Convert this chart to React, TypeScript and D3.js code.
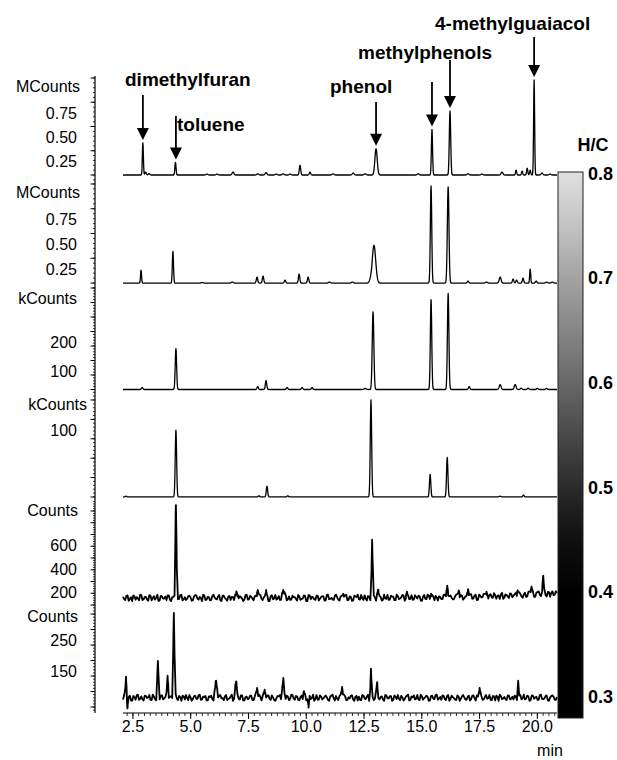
import React from 'react';
import * as d3 from 'd3';

// ---------- data ----------
const T_START = 2.07;
const T_END = 20.85;
const X_TICKS = [2.5, 5, 7.5, 10, 12.5, 15, 17.5, 20];

const PANEL_UNITS = ['MCounts', 'MCounts', 'kCounts', 'kCounts', 'Counts', 'Counts'];
const PANEL_LABELS = [[0.25, 0.5, 0.75], [0.25, 0.5, 0.75], [100, 200], [100], [200, 400, 600], [150, 250]];
const PANEL_DECIMALS = [2, 2, 0, 0, 0, 0];

// peaks: [time (min), height (panel units), sigma (min)]
const PEAKS_1: [number, number, number][] = [
  [2.93, 0.33, 0.022], [3.05, 0.03, 0.03], [3.2, 0.015, 0.03], [4.34, 0.13, 0.025], [5.7, 0.01, 0.04],
  [6.14, 0.01, 0.04], [6.83, 0.03, 0.04], [7.9, 0.012, 0.04], [8.26, 0.025, 0.04], [8.7, 0.01, 0.04],
  [9.0, 0.012, 0.04], [9.3, 0.01, 0.04], [9.73, 0.1, 0.03], [10.16, 0.03, 0.03], [11.16, 0.012, 0.04],
  [12.03, 0.02, 0.04], [12.55, 0.012, 0.04], [13.02, 0.27, 0.05], [14.84, 0.012, 0.04], [15.44, 0.47, 0.025],
  [16.22, 0.66, 0.03], [17.0, 0.012, 0.04], [17.6, 0.01, 0.04], [18.47, 0.03, 0.04], [19.08, 0.05, 0.025],
  [19.34, 0.04, 0.025], [19.56, 0.07, 0.025], [19.69, 0.05, 0.025], [19.86, 0.98, 0.022], [20.2, 0.02, 0.04],
  [20.55, 0.01, 0.04],
];
const PEAKS_2: [number, number, number][] = [
  [2.85, 0.13, 0.022], [4.23, 0.32, 0.025], [5.5, 0.005, 0.04], [6.8, 0.01, 0.04], [7.87, 0.06, 0.03],
  [8.13, 0.07, 0.03], [9.08, 0.03, 0.03], [9.69, 0.09, 0.03], [10.08, 0.06, 0.03], [11.0, 0.01, 0.04],
  [12.0, 0.01, 0.04], [12.76, 0.02, 0.04], [12.93, 0.38, 0.075], [15.4, 0.98, 0.03], [16.14, 0.97, 0.035],
  [17.0, 0.02, 0.03], [17.8, 0.01, 0.04], [18.39, 0.06, 0.04], [18.95, 0.04, 0.03], [19.1, 0.03, 0.03],
  [19.38, 0.05, 0.03], [19.69, 0.14, 0.022], [19.95, 0.02, 0.03], [20.4, 0.01, 0.04], [20.65, 0.01, 0.04],
];
const PEAKS_3: [number, number, number][] = [
  [2.9, 7, 0.03], [4.36, 141, 0.03], [7.9, 10, 0.03], [8.26, 31, 0.03], [9.17, 7, 0.03], [9.82, 7, 0.03],
  [10.25, 7, 0.03], [12.55, 4, 0.04], [12.89, 268, 0.035], [15.4, 310, 0.03], [16.14, 331, 0.032],
  [17.05, 10, 0.03], [18.39, 17, 0.04], [19.04, 17, 0.04], [19.3, 5, 0.03], [19.6, 5, 0.03], [20.0, 4, 0.03],
  [20.4, 4, 0.03],
];
const PEAKS_4: [number, number, number][] = [
  [2.2, 1, 0.03], [4.36, 86, 0.03], [7.95, 1.5, 0.03], [8.3, 13.8, 0.03], [9.2, 1.5, 0.03],
  [12.8, 125, 0.03], [15.36, 29, 0.03], [16.1, 51, 0.03], [18.39, 1, 0.04], [19.4, 2.5, 0.03],
];
const PEAKS_5: [number, number, number][] = [
  [4.36, 790, 0.025], [7.0, 42, 0.04], [7.9, 68, 0.03], [8.26, 51, 0.03], [9.0, 60, 0.04], [11.6, 34, 0.03],
  [12.85, 494, 0.022], [13.1, 68, 0.03], [14.35, 42, 0.03], [15.4, 34, 0.03], [16.1, 102, 0.03],
  [16.6, 60, 0.03], [17.0, 68, 0.03], [17.8, 42, 0.03], [19.15, 42, 0.03], [19.75, 68, 0.03], [20.25, 153, 0.025],
];
const PEAKS_6: [number, number, number][] = [
  [2.2, 68, 0.02], [2.26, -35, 0.015], [3.58, 119, 0.025], [4.0, 71, 0.025], [4.27, 274, 0.025],
  [6.1, 55, 0.04], [6.96, 52, 0.035], [7.87, 32, 0.03], [8.2, 26, 0.03], [9.0, 55, 0.04], [9.9, 19, 0.03],
  [10.1, -32, 0.015], [11.55, 35, 0.025], [12.8, 94, 0.02], [13.06, 48, 0.025], [17.5, 32, 0.025],
  [19.17, 55, 0.02],
];

// baselines for the noisy panels: [time, value]
const BASE_5: [number, number][] = [[2.07, 60], [16, 62], [18, 72], [20.85, 100]];
const BASE_6: [number, number][] = [[2.07, 30], [20.85, 30]];

// hand-read baseline jitter (two interleaved sample sets per noisy panel)
const NOISE_5A = [
  4, -6, 7, -3, -9, 5, 2, -7, 8, -4, 3, -8, 6, 0, -5, 9, -7, 4, -2,
  -6, 7, -9, 3, 5, -4, 8, -7, 2, -3, 6, -8, 4, 7, -5, -1, 9, -6, 3,
  -7, 5, 1, -4, 8, -9, 6, -3, 4, -6, 2, 7, -8, 5, -2, -5, 9, -4, 3,
  -7, 6, -3, 8, -6, 1, 4, -9, 7, -2, -5, 5, -7, 3, 8, -4, -6, 6, 2,
  -8, 4, -3, 7, -9, 8, -4, 1, -6, 6, -3, 5, -8, 8, -4, 0, -6, 9, -5,
  3, -2, 7, -7, 4, -9, 6, 2, -4, 8, -6, -3, 5, -7, 7, 1, -5, 4, -8,
  9, -3, -6, 6, 3, -7, 5, -2, 8, -9, 4, -4, 7, -5, 2, 6, -8, 3, -3,
  9, -6, 5, -7, 1, 4, -4, 8, -2, -7, 6, -5, 3, 7, -9, 5, -3, 2, -6,
  8, -4, 6, -8, 3, -1, 7, -6, 4, -3, 9, -7, 2, 5, -8, 4, -2, 6, -5,
  3, -9, 7, -4, 1, -6, 8, -3, 5, -7, 6, -2, -4, 7, -8, 4, 2, -5, 6,
];
const NOISE_5B = [
  -3, 6, -8, 2, 7, -5, -1, 9, -6, 3, -4, 8, -7, 5, 1, -9, 6, -2, 4,
  7, -5, 2, -8, 6, -3, 9, -4, -6, 5, 1, -7, 8, -2, 3, -9, 7, -5, 2,
  -6, 9, -3, 4, -7, 6, -1, -8, 5, 3, -6, 7, -4, 2, -9, 8, -5, 6, -2,
  4, -8, 7, -3, 1, 6, -9, 5, -4, 8, -2, -6, 3, 9, -7, 4, -5, 2, -3,
  8, -6, -2, 5, -9, 7, 3, -4, 6, -8, 2, 4, -7, 9, -3, -5, 6, 1, -8,
  5, -3, 8, -6, 2, -7, 4, 9, -5, -2, 7, -8, 3, -4, 6, -9, 5, 2, -6,
  -2, 8, -5, 3, -7, 9, -4, 1, 6, -8, 5, -3, -6, 7, -2, 4, -9, 8, -4,
  6, -7, 3, 5, -8, 2, -4, 9, -6, 4, -1, -5, 8, -3, 6, -7, 2, -8, 7,
  -5, 4, -9, 6, -2, 8, -3, -6, 7, -4, 3, 1, -8, 9, -5, 2, -7, 5, -1,
  7, -4, 3, -8, 6, -5, 9, -2, -7, 4, 8, -6, 2, -3, 5, -9, 6, -4, 1,
];
const NOISE_6A = [
  -5, 8, -3, 6, -9, 2, 7, -6, 4, -8, 5, 1, -7, 9, -4, 3, -6, 7, -2,
  5, -8, 4, -3, 9, -7, 2, 6, -5, -1, 8, -9, 4, -3, 7, -6, 3, 5, -8,
  2, -4, 9, -6, 5, -2, -7, 8, -3, 4, -9, 6, 1, -5, 7, -8, 3, -2, 6,
  -7, 8, -4, 2, 5, -9, 6, -3, 7, -6, -1, 4, -8, 9, -5, 3, -2, 8, -6,
  4, -7, 6, 2, -8, 5, -4, 9, -3, -6, 7, -5, 3, 1, -9, 6, -2, 5, -7,
  8, -3, 4, -6, -2, 7, -9, 5, 3, -7, 6, -4, 9, -8, 2, -3, 6, -5, 4,
  -9, 7, -2, 5, -6, 3, 8, -7, 1, -4, 6, -8, 4, 7, -3, -5, 9, -6, 2,
  3, -8, 6, -4, 9, -2, -6, 5, -7, 8, -3, 2, -5, 7, -9, 4, 1, -6, 6,
  -4, 7, -8, 3, 5, -6, 2, -3, 8, -7, 4, 6, -9, 5, -2, -4, 7, -5, 3,
  6, -8, 2, -5, 9, -3, 4, -7, 6, 1, -6, 8, -4, -2, 7, -9, 5, 3, -6,
];
const NOISE_6B = [
  7, -4, 2, -8, 5, -6, 9, -3, -5, 6, -1, 8, -7, 3, -9, 4, 6, -5, 2,
  -8, 3, -6, 7, -2, 5, -9, 4, 8, -7, 1, -4, 6, -3, 9, -5, 2, -8, 4,
  6, -9, 3, -5, 8, -1, 4, -7, -2, 9, -6, 5, -3, 7, -8, 2, -4, 6, -7,
  3, -5, 9, -8, 4, -2, 7, -6, 1, -9, 5, 8, -3, -4, 6, -7, 9, -2, 5,
  -6, 2, -8, 7, -4, 6, -1, -9, 8, -5, 3, -2, 7, -6, 4, 9, -8, -3, 5,
  -4, 9, -7, 1, 6, -5, 3, -8, -6, 8, -2, 4, -9, 5, -7, 7, -3, 2, -5,
  8, -2, 5, -9, 7, -4, -3, 6, -8, 3, 9, -6, 1, -5, 8, -7, 4, -1, 6,
  -9, 5, -3, 8, -6, 2, 7, -4, 5, -9, 6, -1, -7, 4, -3, 8, -5, 3, -8,
  6, -2, 7, -9, 4, -5, 8, -1, -6, 5, -8, 3, 9, -4, 2, -7, 6, -3, -5,
  4, -7, 8, -2, -5, 6, -9, 7, -3, 3, -6, 9, -4, 5, -8, 1, 7, -6, 2,
];

// annotations (panel 1)
const ANNOT_LABELS = ['dimethylfuran', 'toluene', 'phenol', 'methylphenols', '4-methylguaiacol'];
const ARROW_TIMES = [2.93, 4.36, 13.02, 15.44, 16.22, 19.86];
const ARROW_PEAK_TIMES = [2.93, 4.34, 13.02, 15.44, 16.22, 19.86];

// colour bar
const CB_TICKS = [0.8, 0.7, 0.6, 0.5, 0.4, 0.3];
const CB_STOP_VALUES = [0.803, 0.75, 0.7, 0.65, 0.6, 0.55, 0.5, 0.45, 0.4, 0.259];
const CB_STOP_COLORS = ['#e0e0e0', '#c2c2c2', '#a2a2a2', '#858585', '#676767', '#484848', '#2a2a2a', '#0f0f0f', '#000000', '#000000'];

// ---------- layout ----------
const W = 617;
const H = 760;
const AXIS_X = 95;
const PLOT_LEFT = 123;
const PLOT_RIGHT = 557;
const X_AXIS_Y = 713;
const BAND_TOP0 = 76;
const BAND_H = 106;
const PANEL_DOMAINS: [number, number][] = [[-0.072, 1.021], [-0.05, 1.02], [-15.5, 350], [-3.9, 132.7], [-8.5, 893.6], [-16, 326]];
const PANEL_TICK_STEP = [0.25, 0.25, 50, 25, 100, 50];
const UNIT_X = [80, 80, 77, 87, 78, 78];
const LABEL_OFFSET = 12.5;
const ANNOT_POS: [number, number][] = [[125, 86], [177, 131], [330, 93], [358, 59], [435, 30]];
const ARROW_TOPS = [95, 116, 102, 82, 60, 37];
const CB_X = 558;
const CB_W = 25;
const CB_Y0 = 172;
const CB_Y1 = 718;

const FONT = "'Liberation Sans', Arial, Helvetica, sans-serif";

function peakSum(t: number, peaks: [number, number, number][]) {
  let s = 0;
  for (const [tp, h, sg] of peaks) {
    const z = (t - tp) / sg;
    if (Math.abs(z) < 8) s += h * Math.exp(-0.5 * z * z);
  }
  return s;
}

function baseAt(t: number, base: [number, number][]) {
  for (let i = 0; i < base.length - 1; i++) {
    const [t0, v0] = base[i];
    const [t1, v1] = base[i + 1];
    if (t >= t0 && t <= t1) return v0 + ((t - t0) / (t1 - t0)) * (v1 - v0);
  }
  return base[base.length - 1][1];
}

function smoothTrace(peaks: [number, number, number][]): [number, number][] {
  const ts = d3.range(T_START, T_END + 1e-9, 0.01).concat(peaks.map((p) => p[0]));
  ts.sort((a, b) => a - b);
  return ts.map((t) => [t, peakSum(t, peaks)]);
}

function noisyTrace(peaks: [number, number, number][], base: [number, number][], na: number[], nb: number[], amp: number): [number, number][] {
  const noise: number[] = [];
  na.forEach((v, i) => {
    noise.push(v);
    if (i < nb.length) noise.push(nb[i]);
  });
  const n = noise.length;
  const dt = (T_END - T_START) / (n - 1);
  const pts: [number, number][] = noise.map((v, i) => {
    const t = T_START + i * dt;
    return [t, baseAt(t, base) + v * amp + peakSum(t, peaks)];
  });
  for (const [tp, , sg] of peaks) {
    for (const k of [-1, 0, 1]) {
      const t = tp + k * sg;
      pts.push([t, baseAt(t, base) + peakSum(t, peaks)]);
    }
  }
  pts.sort((a, b) => a[0] - b[0]);
  return pts;
}

export default function App() {
  const x = d3.scaleLinear().domain([T_START, T_END]).range([PLOT_LEFT, PLOT_RIGHT]);
  const traces = [
    smoothTrace(PEAKS_1),
    smoothTrace(PEAKS_2),
    smoothTrace(PEAKS_3),
    smoothTrace(PEAKS_4),
    noisyTrace(PEAKS_5, BASE_5, NOISE_5A, NOISE_5B, 3),
    noisyTrace(PEAKS_6, BASE_6, NOISE_6A, NOISE_6B, 1.1),
  ];
  const yScales = PANEL_DOMAINS.map((dom, i) =>
    d3.scaleLinear().domain(dom).range([BAND_TOP0 + (i + 1) * BAND_H, BAND_TOP0 + i * BAND_H])
  );

  const xMinor = d3.range(2.25, T_END, 0.25).filter((t) => t >= T_START);
  const cb = d3.scaleLinear().domain([0.8, 0.3]).range([175, 698]);

  const y1 = yScales[0];

  return (
    <div style={{ position: 'absolute', left: 0, top: 0 }}>
      <svg width={W} height={H} style={{ display: 'block', background: '#fff' }} fontFamily={FONT}>
        <defs>
          <linearGradient id="cbgrad" x1="0" y1="0" x2="0" y2="1">
            {CB_STOP_VALUES.map((v, i) => (
              <stop key={i} offset={(cb(v) - CB_Y0) / (CB_Y1 - CB_Y0)} stopColor={CB_STOP_COLORS[i]} />
            ))}
          </linearGradient>
        </defs>

        {/* left axis */}
        <line x1={AXIS_X} x2={AXIS_X} y1={BAND_TOP0} y2={X_AXIS_Y} stroke="#000" strokeWidth={1.2} />
        {yScales.map((ys, i) => {
          const [d0, d1] = PANEL_DOMAINS[i];
          const step = PANEL_TICK_STEP[i];
          const major = d3.range(Math.ceil(d0 / step) * step, d1 + 1e-9, step);
          const mstep = step / 5;
          const minor = d3.range(Math.ceil(d0 / mstep) * mstep, d1 + 1e-9, mstep);
          return (
            <g key={i}>
              {minor.map((v, k) => (
                <line key={'m' + k} x1={AXIS_X - 2} x2={AXIS_X} y1={ys(v)} y2={ys(v)} stroke="#000" strokeWidth={0.8} />
              ))}
              {major.map((v, k) => (
                <line key={'M' + k} x1={AXIS_X - 4.5} x2={AXIS_X} y1={ys(v)} y2={ys(v)} stroke="#000" strokeWidth={1} />
              ))}
              {PANEL_LABELS[i].map((v, k) => (
                <text key={'l' + k} x={77} y={ys(v) + LABEL_OFFSET} fontSize={16} textAnchor="end" dominantBaseline="middle">
                  {v.toFixed(PANEL_DECIMALS[i])}
                </text>
              ))}
              <text x={UNIT_X[i]} y={BAND_TOP0 + i * BAND_H + 12} fontSize={16} textAnchor="end" dominantBaseline="middle">
                {PANEL_UNITS[i]}
              </text>
              <path
                d={d3.line<[number, number]>().x((d) => x(d[0])).y((d) => ys(d[1]))(traces[i]) || ''}
                fill="none"
                stroke="#000"
                strokeWidth={i >= 4 ? 1.8 : 1.3}
                strokeLinejoin="round"
              />
            </g>
          );
        })}

        {/* x axis */}
        <line x1={PLOT_LEFT} x2={PLOT_RIGHT} y1={X_AXIS_Y} y2={X_AXIS_Y} stroke="#000" strokeWidth={1.2} />
        {xMinor.map((t, k) => (
          <line key={k} x1={x(t)} x2={x(t)} y1={X_AXIS_Y} y2={X_AXIS_Y + 3} stroke="#000" strokeWidth={0.8} />
        ))}
        {X_TICKS.map((t, k) => (
          <g key={k}>
            <line x1={x(t)} x2={x(t)} y1={X_AXIS_Y} y2={X_AXIS_Y + 6} stroke="#000" strokeWidth={1} />
            <text x={x(t)} y={728} fontSize={16} textAnchor="middle" dominantBaseline="middle">
              {t.toFixed(1)}
            </text>
          </g>
        ))}
        <text x={550} y={752} fontSize={16} textAnchor="middle" dominantBaseline="middle">min</text>

        {/* annotations */}
        {ANNOT_LABELS.map((s, k) => (
          <text key={k} x={ANNOT_POS[k][0]} y={ANNOT_POS[k][1]} fontSize={19} fontWeight="bold">
            {s}
          </text>
        ))}
        {ARROW_TIMES.map((t, k) => {
          const ax = x(t);
          const tip = y1(peakSum(ARROW_PEAK_TIMES[k], PEAKS_1)) - 3;
          return (
            <g key={k}>
              <line x1={ax} x2={ax} y1={ARROW_TOPS[k]} y2={tip - 10} stroke="#000" strokeWidth={1.8} />
              <path d={`M${ax - 6},${tip - 12} L${ax + 6},${tip - 12} L${ax},${tip} Z`} fill="#000" />
            </g>
          );
        })}

        {/* colour bar */}
        <rect x={CB_X} y={CB_Y0} width={CB_W} height={CB_Y1 - CB_Y0} fill="url(#cbgrad)" stroke="#222" strokeWidth={1} />
        <text x={593} y={146} fontSize={18} fontWeight="bold" textAnchor="middle" dominantBaseline="middle">H/C</text>
        {CB_TICKS.map((v, k) => (
          <text key={k} x={588} y={cb(v)} fontSize={18} fontWeight="bold" dominantBaseline="middle">
            {v.toFixed(1)}
          </text>
        ))}
      </svg>
    </div>
  );
}
